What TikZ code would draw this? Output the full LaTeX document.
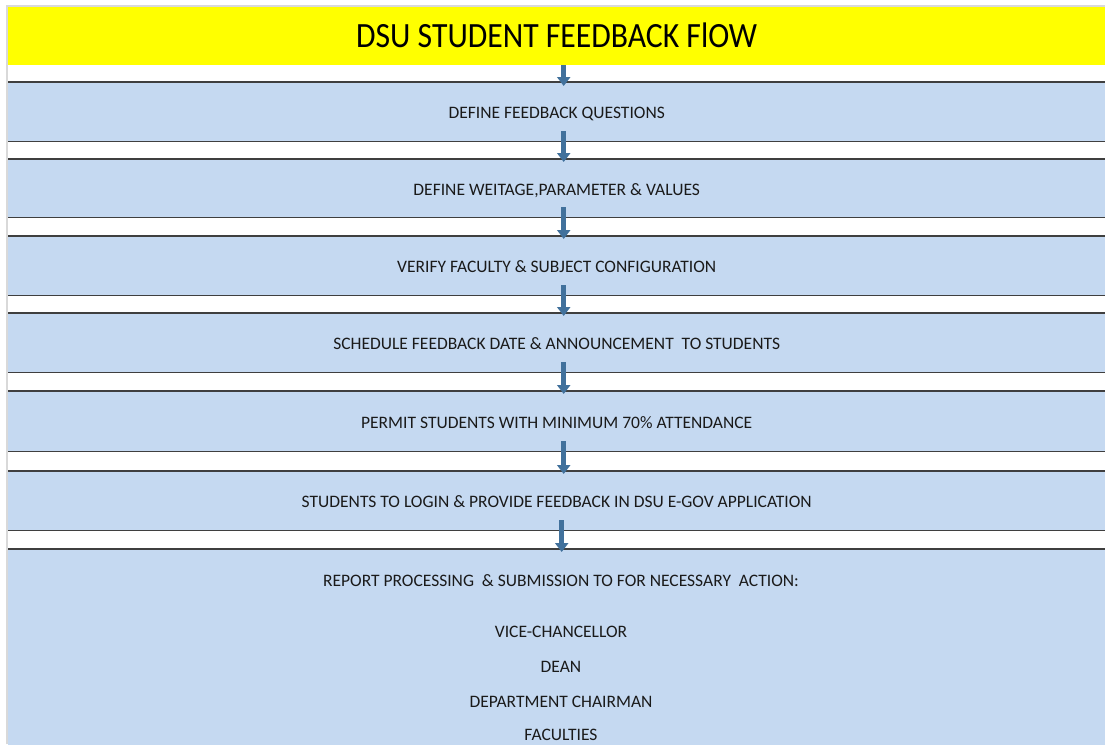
\documentclass[tikz,border=0pt]{standalone}
\usepackage{fontspec}
\setmainfont{Carlito}
\usetikzlibrary{arrows.meta}
\definecolor{boxblue}{HTML}{C5D9F1}
\definecolor{titleyellow}{HTML}{FFFF00}
\definecolor{arrowblue}{HTML}{41719C}
\definecolor{lineg}{HTML}{3F3F3F}
\definecolor{edgeg}{HTML}{D9D9D9}
\definecolor{txt}{HTML}{1A1A1A}
\tikzset{
  titlebox/.style={fill=titleyellow, inner sep=0pt, minimum width=1097pt, minimum height=58pt, anchor=north west, font=\fontsize{31.7}{36}\selectfont, text=black, text height=23pt, text depth=0pt},
  stepbox/.style={fill=boxblue, inner sep=0pt, minimum width=1097pt, anchor=north west, font=\fontsize{17.5}{21}\selectfont, text=txt, text height=14pt, text depth=0pt},
  steptext/.style={inner sep=0pt, font=\fontsize{17.5}{21}\selectfont, text=txt, text height=11.3pt, text depth=0pt},
  boxline/.style={draw=lineg, line width=1.6pt},
  edgeline/.style={draw=edgeg, line width=1.5pt},
  flowarrow/.style={draw=arrowblue, line width=4.5pt, -{Triangle[width=13pt,length=9pt]}}
}
\begin{document}
\begin{tikzpicture}[x=1pt,y=-1pt]
\useasboundingbox (0,0) rectangle (1105,744);
\clip (0,0) rectangle (1105,744);
\fill[white] (0,0) rectangle (1105,744);
% frame edges
\coordinate (e1) at (7,6);
\coordinate (e2) at (1105,6);
\coordinate (e3) at (7,744);
\draw[edgeline] (e3) -- (e1) -- (e2);
% title
\node[titlebox] (title) at (8,7) {\scalebox{1}[1.12]{DSU STUDENT FEEDBACK FlOW}};
% steps
\node[stepbox, minimum height=59pt] (b1) at (8,82) {DEFINE FEEDBACK QUESTIONS};
\node[stepbox, minimum height=58pt] (b2) at (8,159) {DEFINE WEITAGE,PARAMETER \& VALUES};
\node[stepbox, minimum height=59pt] (b3) at (8,236) {VERIFY FACULTY \& SUBJECT CONFIGURATION};
\node[stepbox, minimum height=59pt] (b4) at (8,313) {SCHEDULE FEEDBACK DATE \& ANNOUNCEMENT\ \ TO STUDENTS};
\node[stepbox, minimum height=60pt] (b5) at (8,391) {PERMIT STUDENTS WITH MINIMUM 70\% ATTENDANCE};
\node[stepbox, minimum height=59pt] (b6) at (8,471) {STUDENTS TO LOGIN \& PROVIDE FEEDBACK IN DSU E-GOV APPLICATION};
\node[stepbox, minimum height=220pt] (b7) at (8,549) {};
\node[steptext] (r0) at (561,581) {REPORT PROCESSING\ \ \& SUBMISSION TO FOR NECESSARY\ \ ACTION:};
\node[steptext] (r1) at (561,632) {VICE-CHANCELLOR};
\node[steptext] (r2) at (561,667) {DEAN};
\node[steptext] (r3) at (561,702) {DEPARTMENT CHAIRMAN};
\node[steptext] (r4) at (561,734.5) {FACULTIES};
% box lines
\foreach \b in {b1,b2,b3,b4,b5,b6}{
  \draw[boxline] (\b.north west) -- (\b.north east);
  \draw[boxline] (\b.south west) -- (\b.south east);
}
\draw[boxline] (b7.north west) -- (b7.north east);
% arrows
\draw[flowarrow] ([xshift=7pt]title.south) -- ([xshift=7pt,yshift=-4pt]b1.north);
\draw[flowarrow] ([xshift=7pt,yshift=10pt]b1.south) -- ([xshift=7pt,yshift=-3pt]b2.north);
\draw[flowarrow] ([xshift=7pt,yshift=10pt]b2.south) -- ([xshift=7pt,yshift=-3pt]b3.north);
\draw[flowarrow] ([xshift=7pt,yshift=10pt]b3.south) -- ([xshift=7pt,yshift=-3pt]b4.north);
\draw[flowarrow] ([xshift=7pt,yshift=10pt]b4.south) -- ([xshift=7pt,yshift=-3pt]b5.north);
\draw[flowarrow] ([xshift=7pt,yshift=10pt]b5.south) -- ([xshift=7pt,yshift=-3pt]b6.north);
\draw[flowarrow] ([xshift=5pt,yshift=10pt]b6.south) -- ([xshift=5pt,yshift=-3pt]b7.north);
\end{tikzpicture}
\end{document}
